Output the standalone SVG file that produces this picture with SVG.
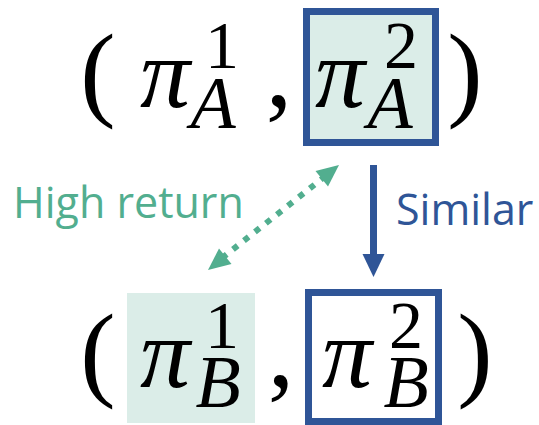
<svg xmlns="http://www.w3.org/2000/svg" width="539" height="425" viewBox="0 0 539 425">
<style>
.m{font-family:"Liberation Serif","DejaVu Serif",serif;fill:#000;text-anchor:middle}
.big{font-size:106px}
.pi{font-size:100px;font-style:italic}
.sup{font-size:68px}
.sub{font-size:74px;font-style:italic}
.lbl{font-family:"Open Sans","Noto Sans",sans-serif;font-size:43px}
.box{stroke:#2f5597;stroke-width:7}
</style>
<rect width="539" height="425" fill="#fff"/>
<g id="rowA">
<text class="m big" x="98" y="107">(</text>
<g id="piA1">
<text class="m pi" x="165" y="107">π</text>
<text class="m sup" x="222" y="68">1</text>
<text class="m sub" x="213" y="128">A</text>
</g>
<text class="m big" x="279" y="106">,</text>
<g id="piA2">
<rect class="box" x="306.5" y="11.5" width="129" height="131" fill="#dbede8"/>
<text class="m pi" x="340" y="107">π</text>
<text class="m sup" x="401" y="68">2</text>
<text class="m sub" x="390" y="128">A</text>
</g>
<text class="m big" x="465" y="107">)</text>
</g>
<g id="rowB">
<text class="m big" x="98" y="387">(</text>
<g id="piB1">
<rect x="127" y="293" width="128" height="130" fill="#dbede8"/>
<text class="m pi" x="165" y="387">π</text>
<text class="m sup" x="222" y="348">1</text>
<text class="m sub" x="218" y="407">B</text>
</g>
<text class="m big" x="281" y="386">,</text>
<g id="piB2">
<rect class="box" x="308.5" y="292.5" width="130" height="129" fill="#fff"/>
<text class="m pi" x="347" y="387">π</text>
<text class="m sup" x="406" y="348">2</text>
<text class="m sub" x="406" y="407">B</text>
</g>
<text class="m big" x="475" y="387">)</text>
</g>
<g id="connectors">
<line x1="373.5" y1="165" x2="373.5" y2="256" stroke="#2f5597" stroke-width="7"/>
<polygon points="362.5,254 384.5,254 373.5,277" fill="#2f5597"/>
<line x1="222" y1="258" x2="323" y2="178" stroke="#52ae8f" stroke-width="6" stroke-dasharray="6 8"/>
<polygon points="339,165 315.5,171 328,186.5" fill="#52ae8f"/>
<polygon points="208,270 219,248.5 231.5,264" fill="#52ae8f"/>
</g>
<g id="labels">
<text class="lbl" x="13" y="218" fill="#52ae8f">High return</text>
<text class="lbl" x="396" y="225" fill="#2f5597">Similar</text>
</g>
</svg>
